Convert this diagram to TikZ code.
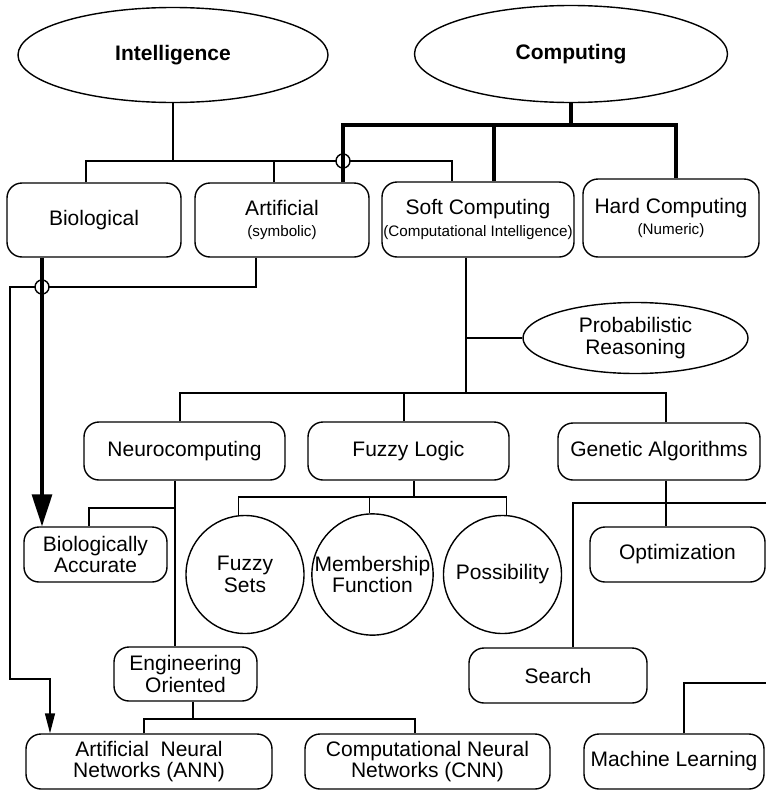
\documentclass[tikz,border=0pt]{standalone}
\usepackage{fontspec}
\setmainfont{Liberation Sans}
\usetikzlibrary{shapes.geometric,arrows.meta}
\newcommand{\msz}{\fontsize{21}{21.5}\selectfont}
\newcommand{\ssz}{\fontsize{15.2}{17}\selectfont}
\begin{document}
\begin{tikzpicture}[x=1pt,y=-1pt,
  box/.style={draw, rounded corners=15pt, line width=1.4pt, align=center, inner sep=0pt, font=\msz},
  ell/.style={draw, ellipse, line width=1.4pt, inner sep=0pt, align=center, font=\msz},
  circ/.style={draw, circle, line width=1.4pt, inner sep=0pt, align=center, font=\msz, minimum size=118pt},
  conn/.style={line width=1.4pt},
  bold/.style={line width=3.2pt},
  jump/.style={draw, fill=white, line width=1.4pt, circle, minimum size=14pt, inner sep=0pt}
]
\useasboundingbox (0,0) rectangle (766,790);

% nodes
\node[ell, minimum width=310pt, minimum height=95pt, font=\msz\bfseries] (intel) at (173,55) {Intelligence};
\node[ell, minimum width=313pt, minimum height=97pt, font=\msz\bfseries] (comp) at (571,54) {Computing};

\node[box, minimum width=174pt, minimum height=74pt] (bio) at (94,220) {Biological};
\node[box, minimum width=174pt, minimum height=74pt] (art) at (282,220) {Artificial\\{\ssz (symbolic)}};
\node[box, minimum width=192pt, minimum height=75pt] (soft) at (478,219.5) {Soft Computing\\{\ssz (Computational Intelligence)}};
\node[box, minimum width=176pt, minimum height=78pt] (hard) at (671,218) {Hard Computing\\{\ssz (Numeric)}};

\node[ell, minimum width=225pt, minimum height=71pt] (prob) at (635.5,338) {Probabilistic\\Reasoning};

\node[box, minimum width=201pt, minimum height=58pt] (neuro) at (184.5,451) {Neurocomputing};
\node[box, minimum width=201pt, minimum height=58pt] (fuzzy) at (408.5,451) {Fuzzy Logic};
\node[box, minimum width=202pt, minimum height=57pt] (ga) at (659,451.5) {Genetic Algorithms};

\node[box, minimum width=143pt, minimum height=55pt] (bioacc) at (95.5,554.5) {Biologically\\Accurate};
\node[circ] (fsets) at (245,574.5) {Fuzzy\\Sets};
\node[circ] (member) at (372.5,574.5) {Membership\\Function};
\node[circ] (poss) at (502.5,574.5) {Possibility};
\node[box, minimum width=175pt, minimum height=55pt] (opt) at (677.5,554.5) {Optimization};

\node[box, minimum width=178pt, minimum height=55pt] (search) at (558,675.5) {Search};
\node[box, minimum width=143pt, minimum height=54pt] (eng) at (185.5,674) {Engineering\\Oriented};

\node[box, minimum width=246pt, minimum height=55pt] (ann) at (149,761.5) {Artificial~~Neural\\Networks (ANN)};
\node[box, minimum width=245pt, minimum height=55pt] (cnn) at (427.5,761.5) {Computational Neural\\Networks (CNN)};
\node[box, minimum width=180pt, minimum height=55pt] (ml) at (674,761.5) {Machine Learning};

% helper coordinates
\coordinate (yI) at (0,161);
\coordinate (yC) at (0,125);
\coordinate (yA) at (0,287);
\coordinate (yS) at (0,393);
\coordinate (yN) at (0,508);
\coordinate (yF) at (0,497);
\coordinate (yE) at (0,719);
\coordinate (yL) at (0,679);
\coordinate (xL) at (10,0);

\coordinate (bioT) at ([xshift=-8pt]bio.north);
\coordinate (artT) at ([xshift=-8pt]art.north);
\coordinate (softT) at ([xshift=-26pt]soft.north);
\coordinate (artT2) at ([xshift=61pt]art.north);
\coordinate (softT2) at ([xshift=16pt]soft.north);
\coordinate (hardT) at ([xshift=5pt]hard.north);
\coordinate (bioB) at ([xshift=-52pt]bio.south);
\coordinate (artB) at ([xshift=-26pt]art.south);
\coordinate (annT) at ([xshift=-99pt]ann.north);
\coordinate (softB) at ([xshift=-12pt]soft.south);
\coordinate (neuroT) at ([xshift=-4.5pt]neuro.north);
\coordinate (fuzzyT) at ([xshift=-4.5pt]fuzzy.north);
\coordinate (gaT) at ([xshift=7pt]ga.north);
\coordinate (neuroB) at ([xshift=-9.5pt]neuro.south);
\coordinate (bioaccT) at ([xshift=-6.5pt]bioacc.north);
\coordinate (fuzzyB) at ([xshift=5.5pt]fuzzy.south);
\coordinate (gaB) at ([xshift=7pt]ga.south);
\coordinate (rG) at (766,503);
\coordinate (searchT) at ([xshift=15pt]search.north);
\coordinate (mlT) at ([xshift=10pt]ml.north);
\coordinate (rM) at (766,683);
\coordinate (engB) at ([xshift=7.5pt]eng.south);
\coordinate (annT2) at ([xshift=-5pt]ann.north);
\coordinate (cnnT) at ([xshift=-12.5pt]cnn.north);

% Intelligence tree (thin)
\draw[conn] (intel.south) -- (intel.south |- yI);
\draw[conn] (bioT) |- (softT |- yI) -- (softT);
\draw[conn] (artT) -- (artT |- yI);
\node[jump] (j1) at (artT2 |- yI) {};

% Computing tree (thick)
\draw[bold] (comp.south) -- (comp.south |- yC);
\draw[bold] (artT2) |- (hardT |- yC) -- (hardT);
\draw[bold] (softT2) -- (softT2 |- yC);

% Artificial -> ANN
\draw[conn, -{Triangle[length=20pt,width=10pt]}] (artB) |- (xL |- yA) |- (annT |- yL) -- (annT);
\node[jump] (j2) at (bioB |- yA) {};
% Biological -> Biologically Accurate
\draw[bold, -{Triangle[length=32pt,width=20pt]}] (bioB) -- (bioB |- bioacc.north);

% Soft computing
\draw[conn] (softB) -- (softB |- yS);
\draw[conn] (softB |- prob.west) -- (prob.west);
\draw[conn] (neuroT) |- (gaT |- yS) -- (gaT);
\draw[conn] (fuzzyT) -- (fuzzyT |- yS);

% Neurocomputing
\draw[conn] (neuroB) -- (neuroB |- eng.north);
\draw[conn] (neuroB |- yN) -| (bioaccT);

% Fuzzy logic
\draw[conn] (fuzzyB) -- (fuzzyB |- yF);
\draw[conn] (fsets.96) |- (poss.86 |- yF) -- (poss.86);
\draw[conn] (member.93) -- (member.93 |- yF);

% Genetic algorithms
\draw[conn] (gaB) -- (gaB |- opt.north);
\draw[conn] (rG) -| (searchT);

% Machine learning
\draw[conn] (mlT) |- (rM);

% Engineering oriented
\draw[conn] (engB) -- (engB |- yE);
\draw[conn] (annT2) |- (cnnT |- yE) -- (cnnT);
\end{tikzpicture}
\end{document}
